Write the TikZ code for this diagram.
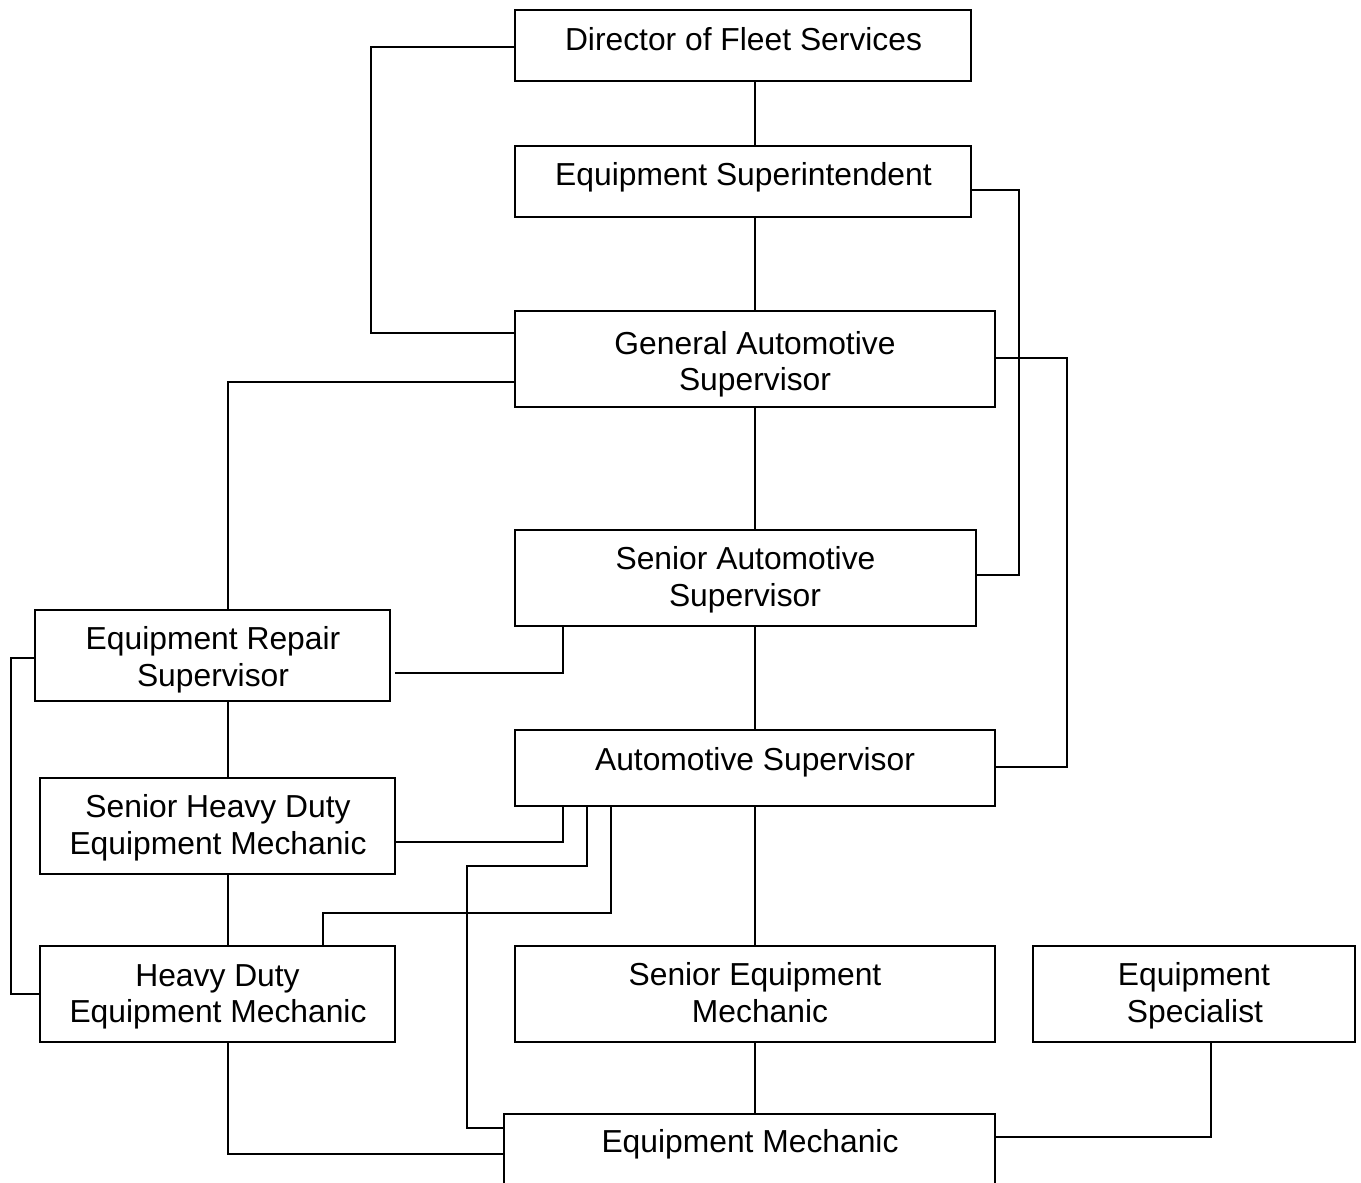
\documentclass[tikz,border=0pt]{standalone}
\usepackage{fontspec}
\setmainfont{Liberation Sans}
\usetikzlibrary{fit}
\begin{document}
\begin{tikzpicture}[x=0.5pt,y=-0.5pt,
  box/.style={draw=black,line width=1.1pt,inner sep=0pt,fill=white},
  txt/.style={inner sep=0pt,anchor=base,font=\fontsize{15.9}{18.5}\selectfont},
  conn/.style={draw=black,line width=1.1pt}]
\useasboundingbox (0,0) rectangle (1361,1183);
\clip (0,0) rectangle (1361,1183);
% boxes
\node[box,fit={(515,10) (971,81)}] (dir) {};
\node[box,fit={(515,146) (971,217)}] (sup) {};
\node[box,fit={(515,311) (995,407)}] (gas) {};
\node[box,fit={(515,530) (976,626)}] (sas) {};
\node[box,fit={(35,610) (390,701)}] (ers) {};
\node[box,fit={(515,730) (995,806)}] (as) {};
\node[box,fit={(40,778) (395,874)}] (shdem) {};
\node[box,fit={(40,946) (395,1042)}] (hdem) {};
\node[box,fit={(515,946) (995,1042)}] (sem) {};
\node[box,fit={(1033,946) (1355,1042)}] (es) {};
\node[box,fit={(504,1114) (995,1200)}] (em) {};
% texts
\node[txt] (tdir) at (743.5,50) {Director of Fleet Services};
\node[txt] (tsup) at (743.5,185.5) {Equipment Superintendent};
\node[txt] (tgasa) at (755,354.5) {General Automotive};
\node[txt] (tgasb) at (755,390) {Supervisor};
\node[txt] (tsasa) at (745.5,569.5) {Senior Automotive};
\node[txt] (tsasb) at (745,606) {Supervisor};
\node[txt] (tersa) at (213,649.5) {Equipment Repair};
\node[txt] (tersb) at (213,686.5) {Supervisor};
\node[txt] (tas) at (755,770.5) {Automotive Supervisor};
\node[txt] (tshdema) at (218,817.5) {Senior Heavy Duty};
\node[txt] (tshdemb) at (218,854.5) {Equipment Mechanic};
\node[txt] (thdema) at (217.5,986) {Heavy Duty};
\node[txt] (thdemb) at (218,1022.5) {Equipment Mechanic};
\node[txt] (tsema) at (755,985.5) {Senior Equipment};
\node[txt] (tsemb) at (760,1022.5) {Mechanic};
\node[txt] (tesa) at (1194,985.5) {Equipment};
\node[txt] (tesb) at (1195,1022.5) {Specialist};
\node[txt] (tem) at (750,1152.5) {Equipment Mechanic};
% connectors
\draw[conn] (dir.west |- 0,47) -- (371,47) |- (gas.west |- 0,333);
\draw[conn] (dir.south -| 755,0) -- (sup.north -| 755,0);
\draw[conn] (sup.south -| 755,0) -- (gas.north -| 755,0);
\draw[conn] (sup.east |- 0,190) -- (1019,190) |- (sas.east |- 0,575);
\draw[conn] (gas.east |- 0,358) -- (1067,358) |- (as.east |- 0,767);
\draw[conn] (gas.west |- 0,382) -| (ers.north -| 228,0);
\draw[conn] (gas.south -| 755,0) -- (sas.north -| 755,0);
\draw[conn] (sas.south -| 563,0) |- (395,673);
\draw[conn] (sas.south -| 755,0) -- (as.north -| 755,0);
\draw[conn] (ers.west |- 0,658) -- (11,658) |- (hdem.west |- 0,994);
\draw[conn] (ers.south -| 228,0) -- (shdem.north -| 228,0);
\draw[conn] (shdem.south -| 228,0) -- (hdem.north -| 228,0);
\draw[conn] (as.south -| 563,0) |- (shdem.east |- 0,842);
\draw[conn] (as.south -| 587,0) |- (467,866) |- (em.west |- 0,1128);
\draw[conn] (as.south -| 611,0) |- (323,913) -- (hdem.north -| 323,0);
\draw[conn] (as.south -| 755,0) -- (sem.north -| 755,0);
\draw[conn] (sem.south -| 755,0) -- (em.north -| 755,0);
\draw[conn] (hdem.south -| 228,0) |- (em.west |- 0,1154);
\draw[conn] (es.south -| 1211,0) |- (em.east |- 0,1137);
\end{tikzpicture}
\end{document}
